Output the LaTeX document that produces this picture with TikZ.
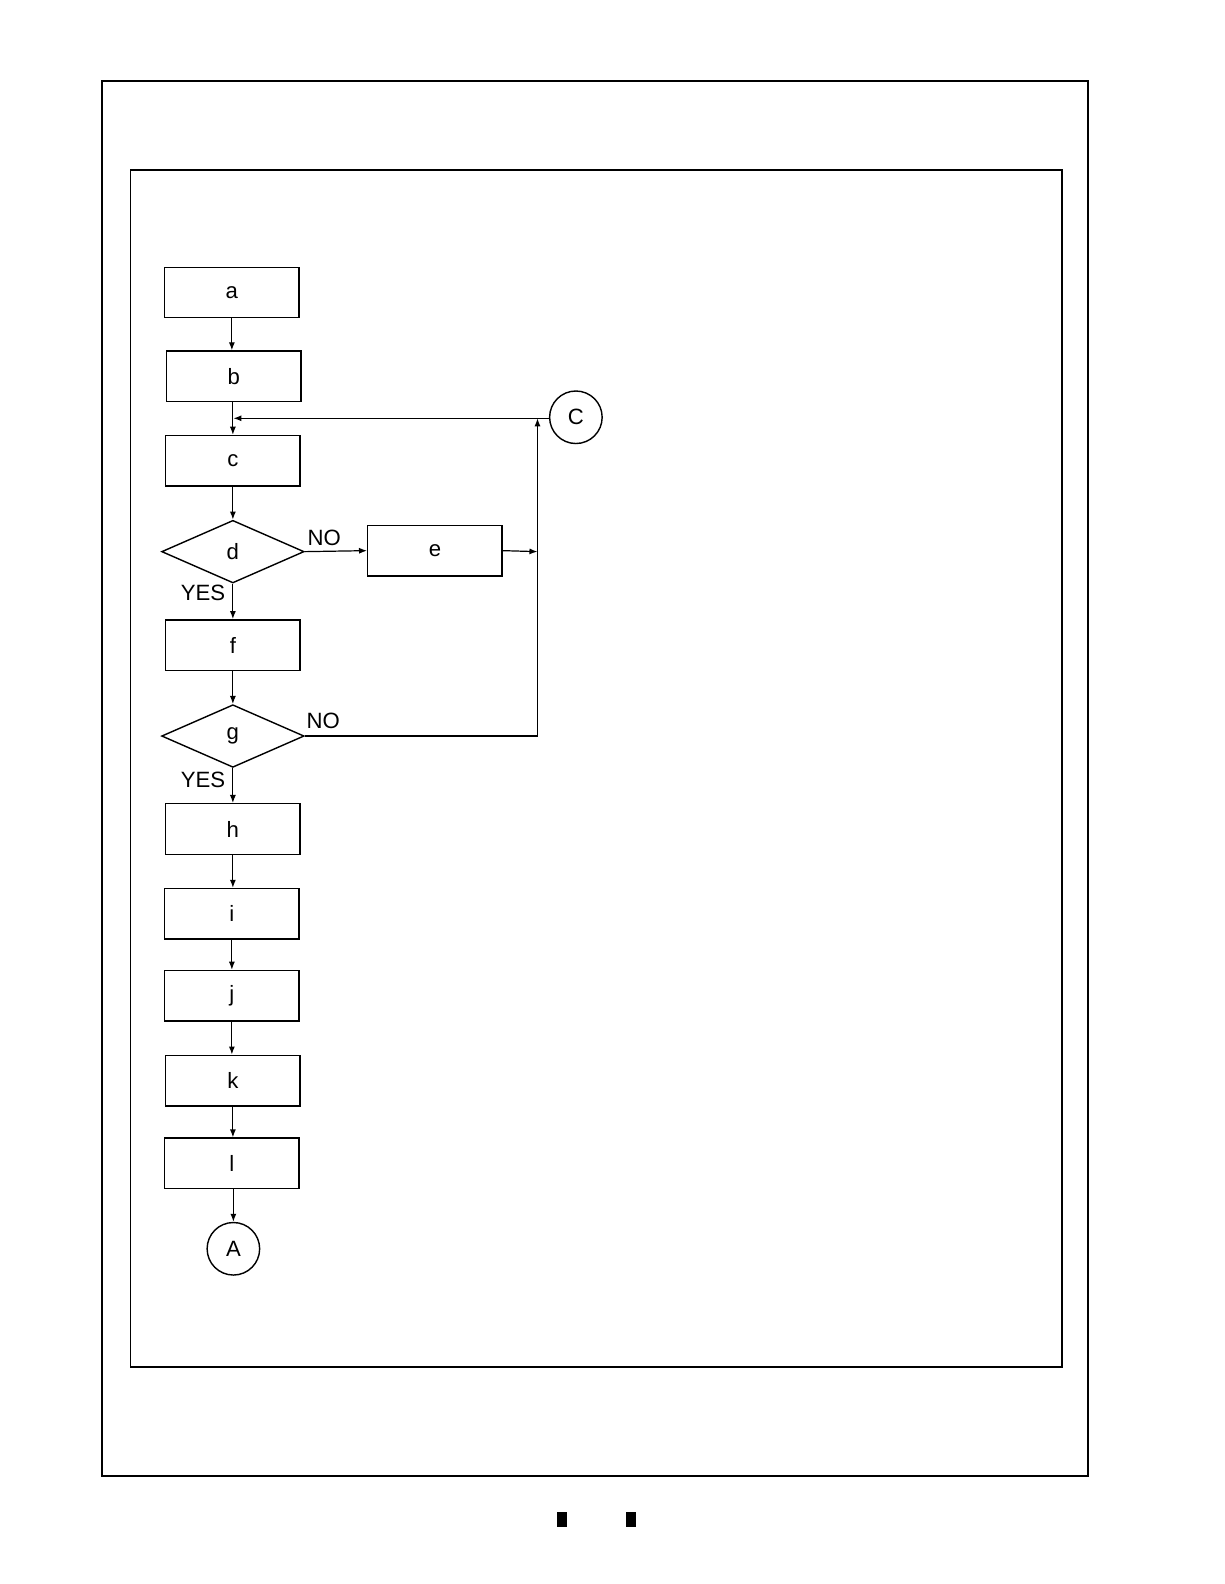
\documentclass[tikz,border=0pt]{standalone}
\usepackage{fontspec}
\setmainfont{Liberation Sans}
\usetikzlibrary{shapes.geometric,arrows.meta}
\begin{document}
\begin{tikzpicture}[x=0.5bp,y=-0.5bp,
  font=\fontsize{11}{13}\selectfont,
  box/.style={draw,line width=0.7pt,minimum width=66.5bp,minimum height=25bp,inner sep=0pt},
  dia/.style={draw,diamond,line width=0.7pt,minimum width=70.5bp,minimum height=31bp,inner sep=0pt},
  circ/.style={draw,circle,line width=0.7pt,minimum size=26bp,inner sep=0pt},
  arr/.style={line width=0.6pt,-{Latex[length=4pt,width=3pt]}},
  lab/.style={inner sep=1pt}]
\useasboundingbox (0,0) rectangle (1211.5,1567.8);
\draw[line width=0.8pt] (101,80) rectangle (1077,1461);
\draw[line width=0.8pt] (129,168) rectangle (1051,1353);
\node[box] (a) at (229.5,289.5) {a};
\node[box] (b) at (231.5,372.5) {b};
\node[box] (c) at (230.5,456) {c};
\node[dia] (d) at (230.5,546) {d};
\node[box] (e) at (430.5,545) {e};
\node[box] (f) at (230.5,638.5) {f};
\node[dia] (g) at (230.5,728.5) {g};
\node[box] (h) at (230.5,820.5) {h};
\node[box] (i) at (229.5,904.5) {i};
\node[box] (j) at (229.5,985.5) {j};
\node[box] (k) at (230.5,1069.5) {k};
\node[box] (l) at (229.5,1151.5) {l};
\node[circ] (A) at (231,1236) {A};
\node[circ] (C) at (570,413) {C};
\coordinate (m) at (532,546);
\coordinate (n) at (532,728.5);
\coordinate (q) at (532,414);
\draw[arr] (a.south) -- (a.south |- b.north);
\draw[arr] (b.south -| c.north) -- (c.north);
\draw[arr] (C.west |- q) -- (231,414);
\draw[arr] (c.south) -- (d.north);
\draw[arr] (d.east) -- (e.west);
\draw[arr] (e.east) -- (m);
\draw[arr] (d.south) -- (d.south |- f.north);
\draw[arr] (f.south) -- (g.north);
\draw[arr] (g.east) -- (n) -- (q);
\draw[arr] (g.south) -- (g.south |- h.north);
\draw[arr] (h.south) -- (h.south |- i.north);
\draw[arr] (i.south) -- (i.south |- j.north);
\draw[arr] (j.south) -- (j.south |- k.north);
\draw[arr] (k.south) -- (k.south |- l.north);
\draw[arr] (l.south -| A.north) -- (A.north);
\node[lab] (n1) at (321,532) {NO};
\node[lab] (n2) at (320,713) {NO};
\node[lab] (y1) at (201,587) {YES};
\node[lab] (y2) at (201,772) {YES};
\fill (551,1497) rectangle (561,1511);
\fill (620,1497) rectangle (629,1511);
\end{tikzpicture}
\end{document}
